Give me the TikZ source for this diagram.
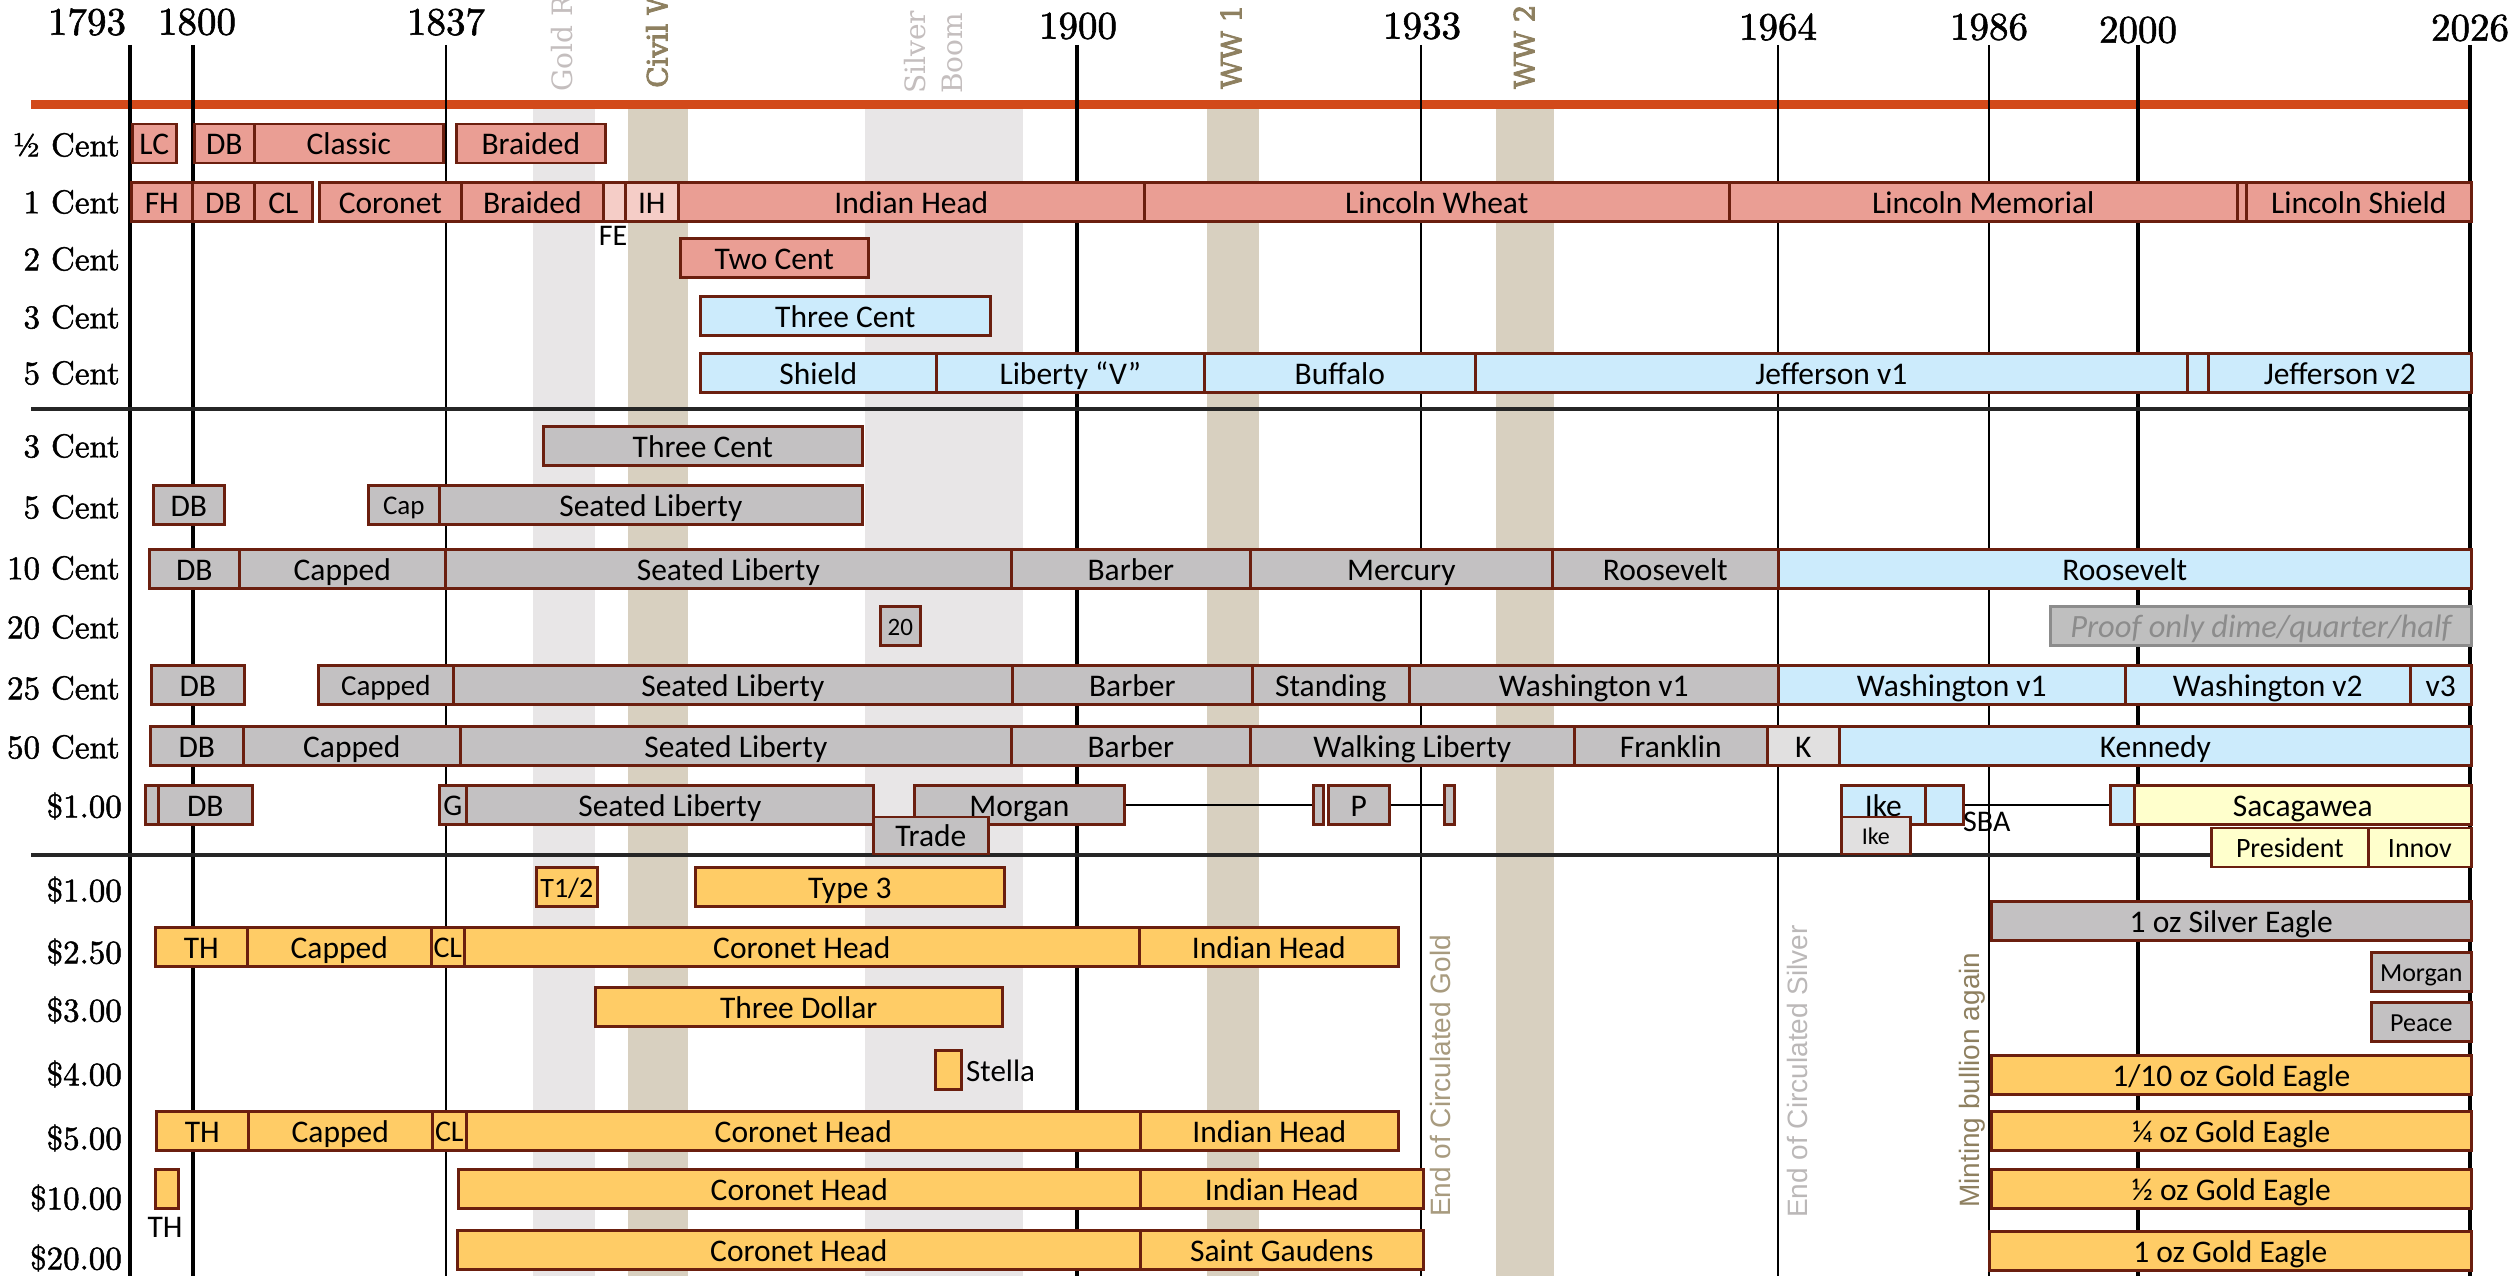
\documentclass[tikz,border=0pt]{standalone}
\usepackage{fontspec}
\setmainfont{Latin Modern Roman}
\newfontfamily\labfont{lmroman10-regular.otf}[FakeBold=1.5]
\newfontfamily\boxfont{Carlito}
\newfontfamily\slabfont{DejaVu Serif}
\newfontfamily\slabboldfont{DejaVu Serif}[FakeBold=3]
\newfontfamily\notefont{Liberation Sans}
\definecolor{brd}{HTML}{6B1F0F}
\definecolor{cpink}{HTML}{EA9E94}
\definecolor{clpink}{HTML}{F5CDC7}
\definecolor{cblue}{HTML}{CCEBFC}
\definecolor{cgray}{HTML}{C3C1C2}
\definecolor{clgray}{HTML}{E1E0E0}
\definecolor{cgold}{HTML}{FFCC66}
\definecolor{cpale}{HTML}{FFFFCC}
\definecolor{bandg}{HTML}{E8E6E7}
\definecolor{bandt}{HTML}{D8D0C0}
\definecolor{orln}{HTML}{D24A1A}
\definecolor{labg}{HTML}{C4BEBE}
\definecolor{labt}{HTML}{8E8060}
\definecolor{labeg}{HTML}{A89B7F}
\definecolor{labes}{HTML}{BBB8B8}
\definecolor{pfill}{HTML}{BFBFBF}
\definecolor{pbrd}{HTML}{8C8C8C}
\newcommand\mybar[6]{\pgfmathsetmacro\mybarw{#3-#2}\node[#5,minimum width=\mybarw pt,anchor=west] (#1) at (#2,#4) {#6};}
\begin{document}
\begin{tikzpicture}[x=1pt,y=-1pt,
 seg/.style={draw=brd,line width=2.6pt,minimum height=39pt,inner sep=0pt,text height=22.7pt,text depth=0pt,font=\boxfont\fontsize{31.5}{36}\selectfont},
 sz/.style 2 args={font=\boxfont\fontsize{#1}{#1}\selectfont,text height=#2pt},
 pk/.style={seg,fill=cpink},
 lpk/.style={seg,fill=clpink},
 bl/.style={seg,fill=cblue},
 gr/.style={seg,fill=cgray},
 lg/.style={seg,fill=clgray},
 au/.style={seg,fill=cgold},
 py/.style={seg,fill=cpale},
 rowlab/.style={anchor=east,inner sep=0pt,font=\labfont\fontsize{33}{40}\selectfont},
 yr/.style={inner sep=0pt,font=\labfont\fontsize{39}{44}\selectfont},
 toplab/.style={rotate=90,anchor=west,inner sep=0pt,font=\slabfont\fontsize{28}{30}\selectfont},
 topbold/.style={toplab,font=\slabboldfont\fontsize{28}{30}\selectfont},
 note/.style={rotate=90,anchor=west,inner sep=0pt,font=\notefont\fontsize{28}{30}\selectfont},
 plain/.style={inner sep=0pt,font=\boxfont\fontsize{30}{34}\selectfont}]
\useasboundingbox (0,0) rectangle (2509,1276);
\clip (0,0) rectangle (2509,1276);
\fill[white] (0,0) rectangle (2509,1276);
% bands
\fill[bandg] (533,109) rectangle (595,1276);
\fill[bandt] (628,109) rectangle (688,1276);
\fill[bandg] (865,109) rectangle (1023,1276);
\fill[bandt] (1207,109) rectangle (1259,1276);
\fill[bandt] (1496,109) rectangle (1554,1276);
% orange line
\draw[orln,line width=9pt] (31,104.5) -- (2470,104.5);
% year lines
\foreach \x/\w in {130/3.2,193/3.2,446/1.2,1077/3.2,1421/1.2,1778/1.2,1989/1.2,2138/3.2,2470/3.2}
  \draw[line width=\w pt] (\x,45) -- (\x,1276);
% dividers
\draw[line width=4.5pt,black!85] (31,409) -- (2470,409);
\draw[line width=4.5pt,black!85] (31,855) -- (2470,855);
% year labels
\node[yr] (y1793) at (87,22) {1793};
\node[yr] (y1800) at (197,22) {1800};
\node[yr] (y1837) at (446,22) {1837};
\node[yr] (y1900) at (1078,26) {1900};
\node[yr] (y1933) at (1422,26) {1933};
\node[yr] (y1964) at (1778,27) {1964};
\node[yr] (y1986) at (1989,27) {1986};
\node[yr] (y2000) at (2138,30) {2000};
\node[yr] (y2026) at (2470,28) {2026};
% top rotated labels
\node[toplab,text=labg] (lgold) at (562,92) {Gold Rush};
\node[topbold,text=labt] (lcivil) at (657,88) {Civil War};
\node[toplab,text=labg] (lsilver) at (915,94) {Silver};
\node[toplab,text=labg] (lboom) at (952,94) {Boom};
\node[topbold,text=labt] (lww1) at (1231,89) {WW 1};
\node[topbold,text=labt] (lww2) at (1524,89) {WW 2};
% row labels
\node[rowlab] (r1) at (120,145) {½ Cent};
\node[rowlab] (r2) at (120,202) {1 Cent};
\node[rowlab] (r3) at (120,259) {2 Cent};
\node[rowlab] (r4) at (120,317) {3 Cent};
\node[rowlab] (r5) at (120,373) {5 Cent};
\node[rowlab] (r6) at (120,446) {3 Cent};
\node[rowlab] (r7) at (120,507) {5 Cent};
\node[rowlab] (r8) at (120,568) {10 Cent};
\node[rowlab] (r9) at (120,627) {20 Cent};
\node[rowlab] (r10) at (120,688) {25 Cent};
\node[rowlab] (r11) at (120,747) {50 Cent};
\node[rowlab] (r12) at (122,806) {\$1.00};
\node[rowlab] (r13) at (122,890) {\$1.00};
\node[rowlab] (r14) at (122,952) {\$2.50};
\node[rowlab] (r15) at (122,1010) {\$3.00};
\node[rowlab] (r16) at (122,1074) {\$4.00};
\node[rowlab] (r17) at (122,1138) {\$5.00};
\node[rowlab] (r18) at (122,1198) {\$10.00};
\node[rowlab] (r19) at (122,1258) {\$20.00};
% 1/2 cent
\mybar{hLC}{131}{175}{143.5}{pk}{LC}
\mybar{hDB}{193}{253}{143.5}{pk}{DB}
\mybar{hCl}{253}{442}{143.5}{pk}{Classic}
\mybar{hBr}{455}{604}{143.5}{pk}{Braided}
% 1 cent
\mybar{oFH}{130}{191}{202}{pk}{FH}
\mybar{oDB}{191}{253}{202}{pk}{DB}
\mybar{oCL}{253}{311}{202}{pk}{CL}
\mybar{oCo}{318}{460}{202}{pk}{Coronet}
\mybar{oBr}{460}{602}{202}{pk}{Braided}
\mybar{oFE}{602}{624}{202}{lpk}{}
\mybar{oIH}{624}{677}{202}{lpk}{IH}
\mybar{oIn}{677}{1143}{202}{pk}{Indian Head}
\mybar{oLW}{1143}{1728}{202}{pk}{Lincoln Wheat}
\mybar{oLM}{1728}{2236}{202}{pk}{Lincoln Memorial}
\mybar{oX}{2236}{2245}{202}{pk}{}
\mybar{oLS}{2245}{2470}{202}{pk}{Lincoln Shield}
\node[plain] (lFE) at (613,236) {FE};
% 2 cent
\mybar{tTC}{679}{867}{258}{pk}{Two Cent}
% 3 cent
\mybar{rTC}{699}{989}{316}{bl}{Three Cent}
% 5 cent
\mybar{fSh}{699}{935}{373}{bl}{Shield}
\mybar{fLV}{935}{1203}{373}{bl}{Liberty “V”}
\mybar{fBu}{1203}{1474}{373}{bl}{Buffalo}
\mybar{fJ1}{1474}{2186}{373}{bl}{Jefferson v1}
\mybar{fX}{2186}{2207}{373}{bl}{}
\mybar{fJ2}{2207}{2470}{373}{bl}{Jefferson v2}
% silver 3 cent
\mybar{s3}{542}{861}{446}{gr}{Three Cent}
% silver 5 cent
\mybar{s5DB}{152}{223}{505}{gr}{DB}
\mybar{s5Cap}{367}{438}{505}{gr,sz={27}{19.4}}{Cap}
\mybar{s5SL}{438}{861}{505}{gr}{Seated Liberty}
% 10 cent
\mybar{dDB}{148}{238}{569}{gr}{DB}
\mybar{dCa}{238}{444}{569}{gr}{Capped}
\mybar{dSL}{444}{1010}{569}{gr}{Seated Liberty}
\mybar{dBa}{1010}{1249}{569}{gr}{Barber}
\mybar{dMe}{1249}{1551}{569}{gr}{Mercury}
\mybar{dRo}{1551}{1777}{569}{gr}{Roosevelt}
\mybar{dRb}{1777}{2470}{569}{bl}{Roosevelt}
% 20 cent
\mybar{tw}{879}{919}{626}{gr,sz={25}{18}}{20}
\mybar{proof}{2049}{2470}{626}{seg,fill=pfill,draw=pbrd,text=pbrd,font=\boxfont\itshape\fontsize{32.5}{36}\selectfont}{Proof only dime/quarter/half}
% 25 cent
\mybar{qDB}{150}{243}{685}{gr}{DB}
\mybar{qCa}{317}{452}{685}{gr,sz={29}{20.9}}{Capped}
\mybar{qSL}{452}{1011}{685}{gr}{Seated Liberty}
\mybar{qBa}{1011}{1251}{685}{gr}{Barber}
\mybar{qSt}{1251}{1408}{685}{gr}{Standing}
\mybar{qW1}{1408}{1777}{685}{gr}{Washington v1}
\mybar{qW1b}{1777}{2124}{685}{bl}{Washington v1}
\mybar{qW2}{2124}{2409}{685}{bl}{Washington v2}
\mybar{qV3}{2409}{2470}{685}{bl}{v3}
% 50 cent
\mybar{hfDB}{149}{242}{746}{gr}{DB}
\mybar{hfCa}{242}{459}{746}{gr}{Capped}
\mybar{hfSL}{459}{1010}{746}{gr}{Seated Liberty}
\mybar{hfBa}{1010}{1249}{746}{gr}{Barber}
\mybar{hfWL}{1249}{1573}{746}{gr}{Walking Liberty}
\mybar{hfFr}{1573}{1766}{746}{gr}{Franklin}
\mybar{hfK}{1766}{1838}{746}{lg}{K}
\mybar{hfKe}{1838}{2470}{746}{bl}{Kennedy}
% silver dollar
\mybar{dlX}{144}{157}{805}{gr}{}
\mybar{dlDB}{157}{251}{805}{gr}{DB}
\mybar{dlG}{438}{465}{805}{gr,sz={30}{21.6}}{G}
\mybar{dlSL}{465}{872}{805}{gr}{Seated Liberty}
\mybar{dlMo}{913}{1123}{805}{gr}{Morgan}
\mybar{dlA}{1312}{1322}{805}{gr}{}
\mybar{dlP}{1327}{1388}{805}{gr}{P}
\mybar{dlB}{1443}{1453}{805}{gr}{}
\mybar{dlIke}{1840}{1924}{805}{bl}{Ike}
\mybar{dlI2}{1924}{1962}{805}{bl}{}
\mybar{dlS1}{2109}{2133}{805}{bl}{}
\mybar{dlSac}{2133}{2470}{805}{py}{Sacagawea}
\draw[line width=1.5pt] (dlMo.east) -- (dlA.west);
\draw[line width=1.5pt] (dlP.east) -- (dlB.west);
\draw[line width=1.5pt] (dlI2.east) -- (dlS1.west);
\mybar{dlTr}{872}{987}{835.5}{gr,minimum height=37pt}{Trade}
\mybar{dlIk2}{1840}{1909}{835.5}{lg,minimum height=37pt,sz={24}{17.3}}{Ike}
\node[plain,anchor=west] (lSBA) at (1963,822) {SBA};
\mybar{pres}{2210}{2367}{847.5}{py,sz={28}{20.2}}{President}
\mybar{innov}{2367}{2470}{847.5}{py,sz={28}{20.2}}{Innov}
% gold dollar
\mybar{gT12}{535}{596}{887}{au,sz={28}{20.2}}{T1/2}
\mybar{gT3}{694}{1003}{887}{au}{Type 3}
% 2.50
\mybar{qeTH}{154}{246}{947}{au}{TH}
\mybar{qeCa}{246}{430}{947}{au}{Capped}
\mybar{qeCL}{430}{463}{947}{au,sz={30}{21.6}}{CL}
\mybar{qeCo}{463}{1138}{947}{au}{Coronet Head}
\mybar{qeIn}{1138}{1397}{947}{au}{Indian Head}
% 3.00
\mybar{thr}{594}{1001}{1007}{au}{Three Dollar}
% 4.00
\mybar{stl}{934}{960}{1070}{au}{}
\node[plain,anchor=west,font=\boxfont\fontsize{31}{34}\selectfont] (lStella) at (966,1071) {Stella};
% 5.00
\mybar{heTH}{155}{247}{1131}{au}{TH}
\mybar{heCa}{247}{431}{1131}{au}{Capped}
\mybar{heCL}{431}{465}{1131}{au,sz={30}{21.6}}{CL}
\mybar{heCo}{465}{1139}{1131}{au}{Coronet Head}
\mybar{heIn}{1139}{1397}{1131}{au}{Indian Head}
% 10.00
\mybar{eTH}{154}{177}{1189}{au}{}
\node[plain,font=\boxfont\fontsize{31.5}{34}\selectfont] (lTH) at (165,1227) {TH};
\mybar{eCo}{457}{1139}{1189}{au}{Coronet Head}
\mybar{eIn}{1139}{1422}{1189}{au}{Indian Head}
% 20.00
\mybar{deCo}{456}{1139}{1250}{au}{Coronet Head}
\mybar{deSG}{1139}{1422}{1250}{au}{Saint Gaudens}
% bullion
\mybar{sEag}{1990}{2470}{921}{gr}{1 oz Silver Eagle}
\mybar{bMo}{2370}{2470}{972}{gr,sz={26}{18.7}}{Morgan}
\mybar{bPe}{2370}{2470}{1022}{gr,sz={26}{18.7}}{Peace}
\mybar{g10}{1990}{2470}{1075}{au}{1/10 oz Gold Eagle}
\mybar{g4}{1990}{2470}{1131}{au}{¼ oz Gold Eagle}
\mybar{g2}{1990}{2470}{1189}{au}{½ oz Gold Eagle}
\mybar{g1}{1988}{2470}{1251}{au}{1 oz Gold Eagle}
% notes
\node[note,text=labeg] (nGold) at (1440,1217) {End of Circulated Gold};
\node[note,text=labes] (nSilver) at (1797,1218) {End of Circulated Silver};
\node[note,text=labt] (nMint) at (1972,1208) {Minting bullion again};
\end{tikzpicture}
\end{document}
